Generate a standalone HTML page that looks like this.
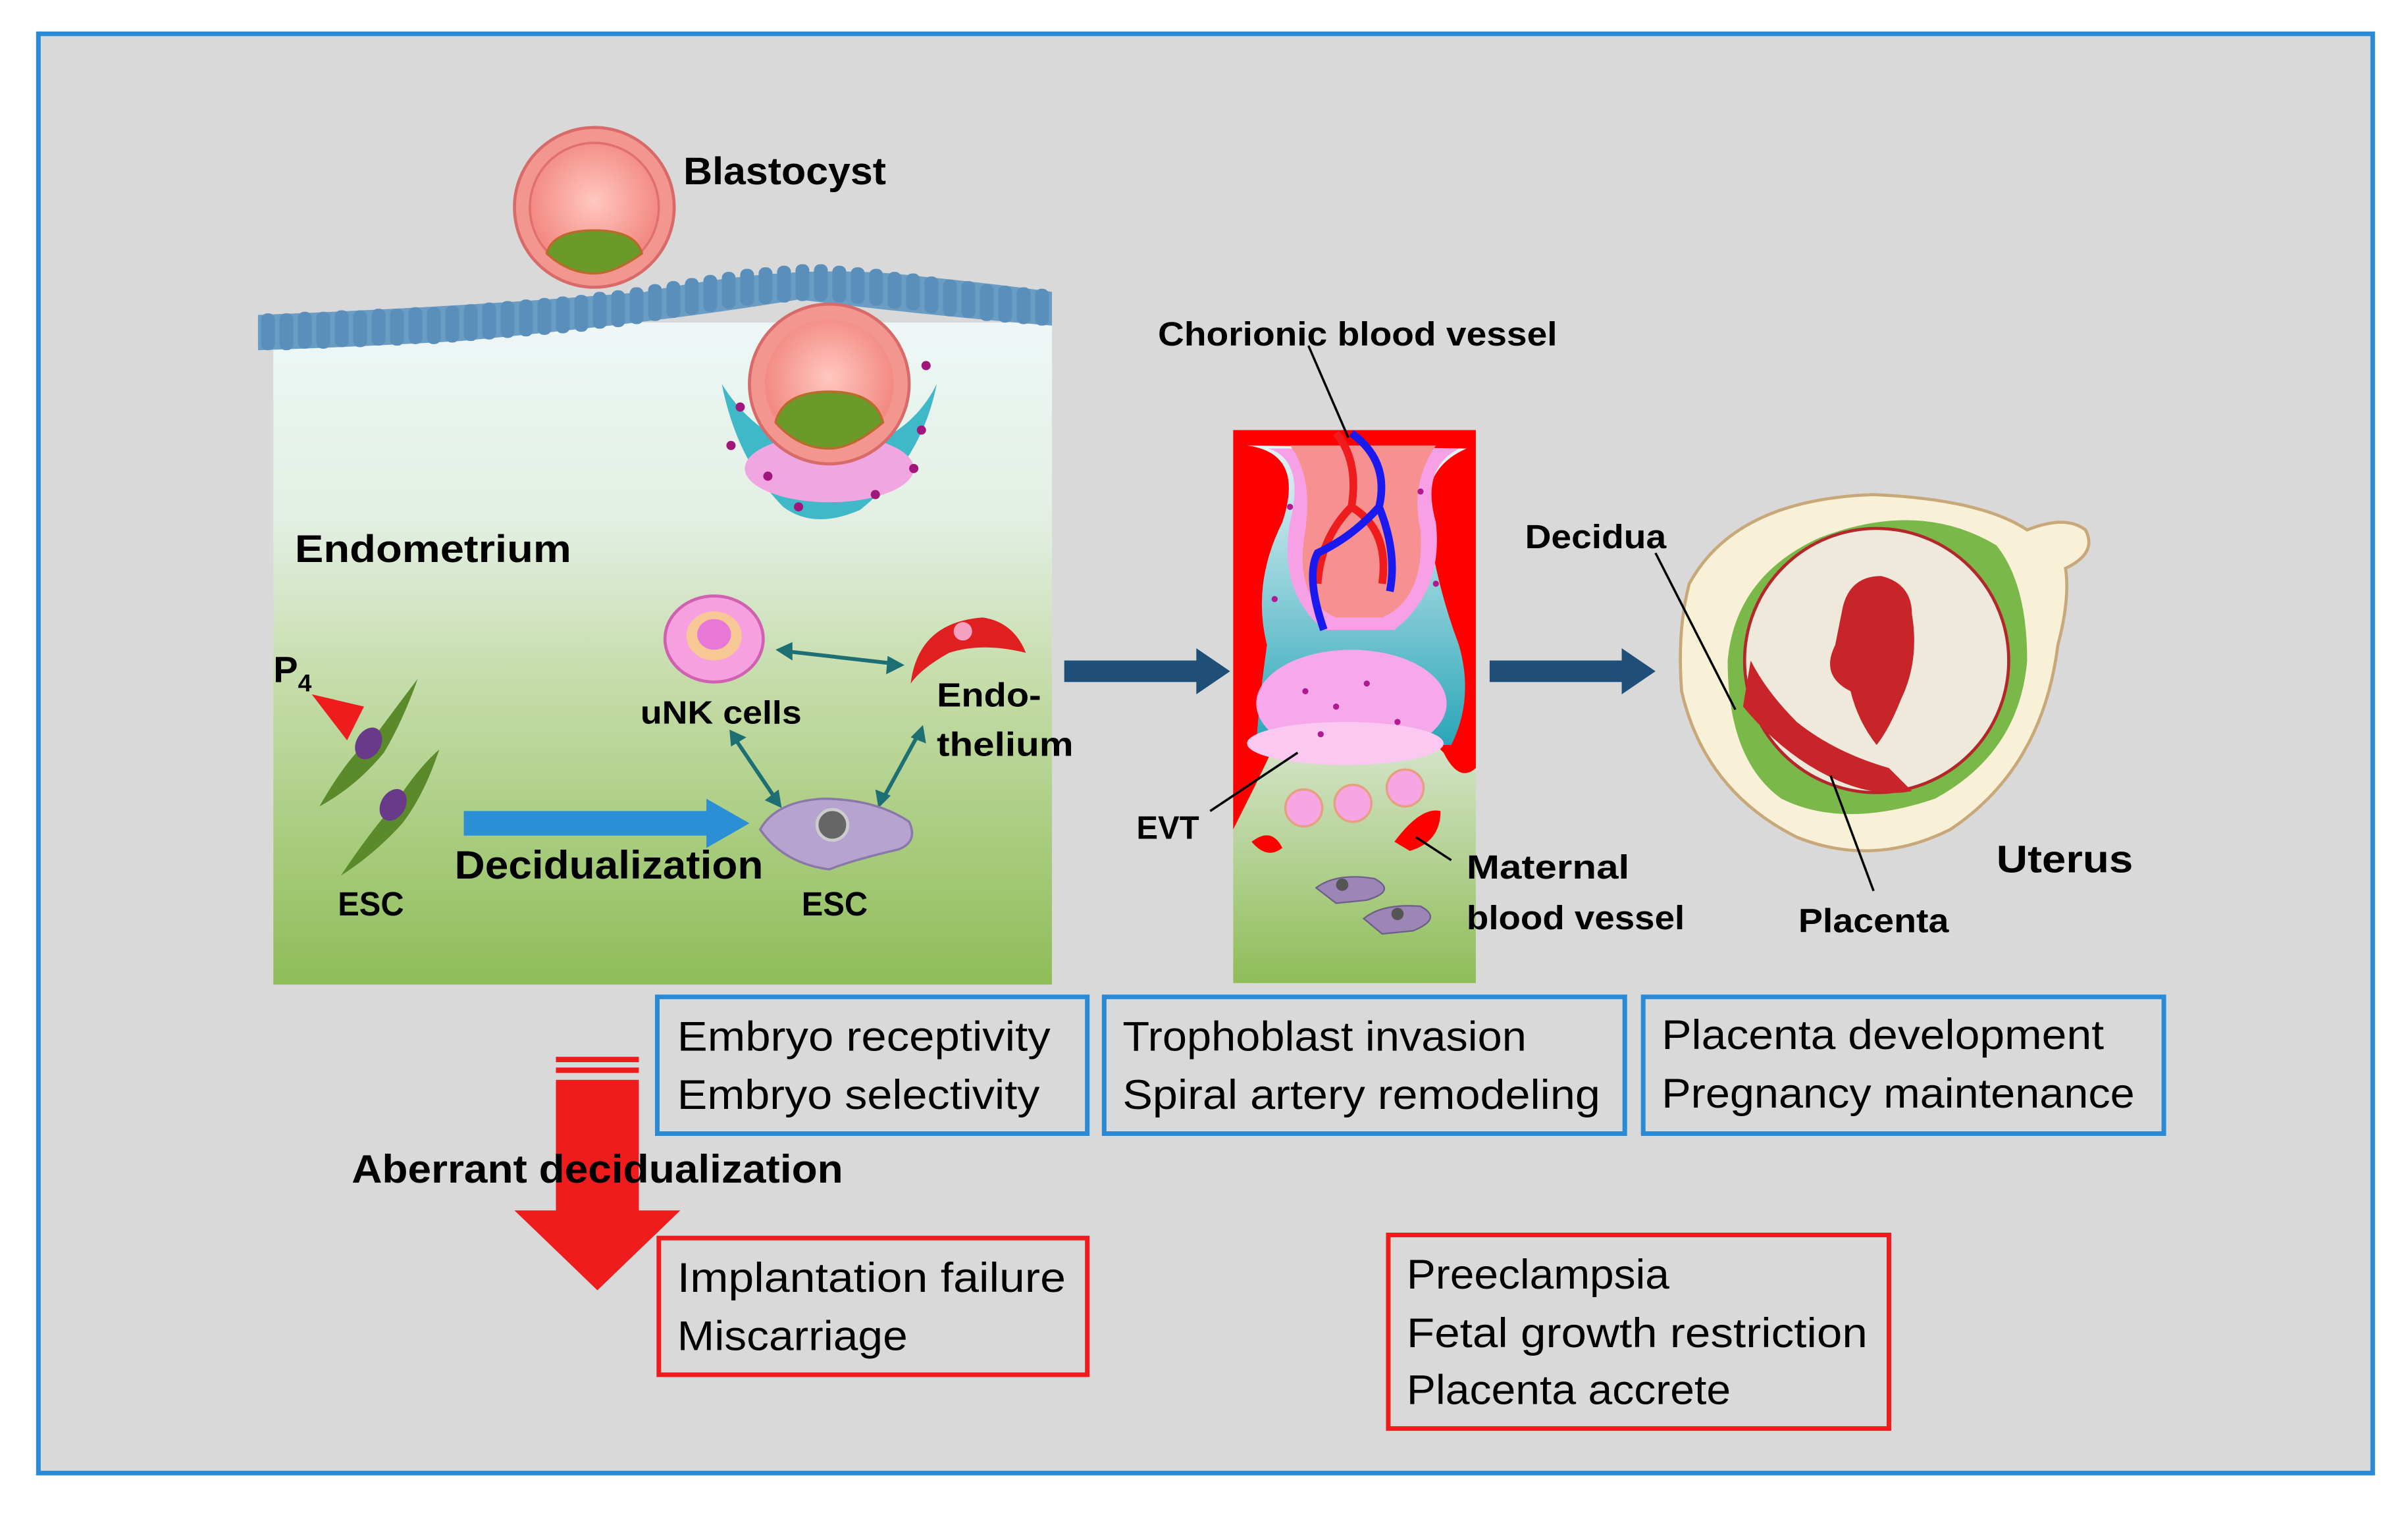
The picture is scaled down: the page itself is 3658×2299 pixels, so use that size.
<!DOCTYPE html>
<html><head><meta charset="utf-8"><style>
html,body{margin:0;padding:0;background:#fff}
svg{display:block}
text{font-family:"Liberation Sans",sans-serif}
</style></head><body>
<svg width="3658" height="2299" viewBox="0 0 1568 985" preserveAspectRatio="none" xmlns="http://www.w3.org/2000/svg">
<defs>
<linearGradient id="endo" x1="0" y1="0" x2="0" y2="1">
<stop offset="0" stop-color="#eef7f7"/><stop offset="0.3" stop-color="#e3efe3"/><stop offset="0.55" stop-color="#c4dca8"/><stop offset="1" stop-color="#8fbd58"/></linearGradient>
<linearGradient id="mid" x1="0" y1="0" x2="0" y2="1">
<stop offset="0" stop-color="#eef4f0"/><stop offset="0.5" stop-color="#dfeadb"/><stop offset="1" stop-color="#8fbd58"/></linearGradient>
<linearGradient id="teal" x1="0" y1="0" x2="0" y2="1">
<stop offset="0" stop-color="#e8f4f6"/><stop offset="1" stop-color="#2aa6b8"/></linearGradient>
<radialGradient id="bl" cx="0.5" cy="0.45" r="0.5"><stop offset="0" stop-color="#ffc8c0"/><stop offset="1" stop-color="#f38a84"/></radialGradient>
</defs>
<rect x="0" y="0" width="1568" height="985" fill="#fff"/>
<rect x="25" y="22" width="1520" height="937" fill="#d9d9d9" stroke="#2a8ad6" stroke-width="3"/>

<rect x="178" y="210" width="507" height="431" fill="url(#endo)"/>
<g fill="#6a9cc4">
<path d="M168 205 Q300 200 420 190 Q520 170 600 180 Q650 185 685 190 L685 212 Q600 205 520 195 Q430 210 300 222 Q230 226 168 228Z"/>
</g>
<g fill="#5a8fbb">
<rect x="170" y="204" width="9" height="24" rx="4"/><rect x="182" y="204" width="9" height="24" rx="4"/><rect x="194" y="203" width="9" height="24" rx="4"/><rect x="206" y="203" width="9" height="24" rx="4"/><rect x="218" y="202" width="9" height="24" rx="4"/><rect x="230" y="202" width="9" height="24" rx="4"/><rect x="242" y="201" width="9" height="24" rx="4"/><rect x="254" y="201" width="9" height="24" rx="4"/><rect x="266" y="200" width="9" height="24" rx="4"/><rect x="278" y="200" width="9" height="24" rx="4"/><rect x="290" y="199" width="9" height="24" rx="4"/><rect x="302" y="198" width="9" height="24" rx="4"/><rect x="314" y="197" width="9" height="24" rx="4"/><rect x="326" y="196" width="9" height="24" rx="4"/><rect x="338" y="195" width="9" height="24" rx="4"/><rect x="350" y="194" width="9" height="24" rx="4"/><rect x="362" y="193" width="9" height="24" rx="4"/><rect x="374" y="192" width="9" height="24" rx="4"/><rect x="386" y="190" width="9" height="24" rx="4"/><rect x="398" y="189" width="9" height="24" rx="4"/><rect x="410" y="187" width="9" height="24" rx="4"/><rect x="422" y="185" width="9" height="24" rx="4"/><rect x="434" y="183" width="9" height="24" rx="4"/><rect x="446" y="181" width="9" height="24" rx="4"/><rect x="458" y="179" width="9" height="24" rx="4"/><rect x="470" y="177" width="9" height="24" rx="4"/><rect x="482" y="175" width="9" height="24" rx="4"/><rect x="494" y="174" width="9" height="24" rx="4"/><rect x="506" y="173" width="9" height="24" rx="4"/><rect x="518" y="172" width="9" height="24" rx="4"/><rect x="530" y="172" width="9" height="24" rx="4"/><rect x="542" y="173" width="9" height="24" rx="4"/><rect x="554" y="174" width="9" height="24" rx="4"/><rect x="566" y="175" width="9" height="24" rx="4"/><rect x="578" y="177" width="9" height="24" rx="4"/><rect x="590" y="178" width="9" height="24" rx="4"/><rect x="602" y="180" width="9" height="24" rx="4"/><rect x="614" y="182" width="9" height="24" rx="4"/><rect x="626" y="183" width="9" height="24" rx="4"/><rect x="638" y="185" width="9" height="24" rx="4"/><rect x="650" y="186" width="9" height="24" rx="4"/><rect x="662" y="187" width="9" height="24" rx="4"/><rect x="674" y="188" width="9" height="24" rx="4"/>
</g>

<circle cx="387" cy="135" r="52" fill="#f49690" stroke="#d86a6a" stroke-width="2"/>
<circle cx="387" cy="135" r="42" fill="url(#bl)" stroke="#e07070" stroke-width="1.5"/>
<path d="M356 165 Q360 150 387 150 Q414 150 418 165 Q400 178 387 178 Q370 178 356 165Z" fill="#6a9a2a" stroke="#b86b2a" stroke-width="1.5"/>
<text x="445" y="120" font-size="25" font-weight="bold" textLength="132" lengthAdjust="spacingAndGlyphs">Blastocyst</text>

<path d="M470 250 Q480 300 510 330 Q530 345 560 332 Q600 300 610 250 Q590 290 540 295 Q495 290 470 250Z" fill="#3fb8c8"/>
<ellipse cx="540" cy="305" rx="55" ry="22" fill="#f0a6e0"/>
<circle cx="540" cy="250" r="52" fill="#f49690" stroke="#d86a6a" stroke-width="2"/>
<circle cx="540" cy="250" r="42" fill="url(#bl)"/>
<path d="M505 275 Q510 255 540 255 Q570 255 575 275 Q555 292 540 292 Q520 292 505 275Z" fill="#6a9a2a" stroke="#b86b2a" stroke-width="1.5"/>
<g fill="#a0167a"><circle cx="482" cy="265" r="3"/><circle cx="476" cy="290" r="3"/><circle cx="600" cy="280" r="3"/><circle cx="595" cy="305" r="3"/><circle cx="520" cy="330" r="3"/><circle cx="570" cy="322" r="3"/><circle cx="500" cy="310" r="3"/><circle cx="603" cy="238" r="3"/></g>

<text x="192" y="366" font-size="25" font-weight="bold" textLength="180" lengthAdjust="spacingAndGlyphs">Endometrium</text>

<ellipse cx="465" cy="416" rx="32" ry="28" fill="#f6a0e0" stroke="#d060b0" stroke-width="2"/>
<ellipse cx="465" cy="414" rx="18" ry="16" fill="#f7c896"/>
<ellipse cx="465" cy="413" rx="11" ry="10" fill="#e878d8"/>
<text x="417" y="471" font-size="21" font-weight="bold" textLength="105" lengthAdjust="spacingAndGlyphs">uNK cells</text>
<path d="M593 445 Q598 405 640 402 Q660 405 668 425 Q640 418 618 425 Q600 435 593 445Z" fill="#e02020"/>
<circle cx="627" cy="411" r="6" fill="#f4a0c0"/>
<text x="610" y="460" font-size="22" font-weight="bold" textLength="68" lengthAdjust="spacingAndGlyphs">Endo-</text>
<text x="610" y="492" font-size="22" font-weight="bold" textLength="89" lengthAdjust="spacingAndGlyphs">thelium</text>
<g stroke="#1e6f74" stroke-width="2.5" fill="none">
<line x1="512" y1="424" x2="582" y2="432"/>
<line x1="478" y1="480" x2="505" y2="520"/>
<line x1="575" y1="520" x2="598" y2="478"/>
</g>
<g fill="#1e6f74">
<path d="M505 423 L516 418 L516 430Z"/><path d="M589 433 L578 427 L577 439Z"/>
<path d="M475 475 L486 480 L476 486Z"/><path d="M509 526 L498 521 L507 514Z"/>
<path d="M572 526 L570 514 L580 518Z"/><path d="M601 472 L603 484 L593 480Z"/>
</g>
<path d="M495 540 Q505 522 535 520 Q570 520 592 535 Q598 548 585 553 Q555 560 540 566 Q510 562 495 540Z" fill="#b7a3d0" stroke="#8a78a8" stroke-width="1.5"/>
<circle cx="542" cy="537" r="10" fill="#666" stroke="#ccc" stroke-width="2"/>
<text x="522" y="596" font-size="22" font-weight="bold" textLength="43" lengthAdjust="spacingAndGlyphs">ESC</text>
<path d="M208 525 Q228 490 245 478 Q262 455 272 442 Q262 470 250 490 Q232 512 208 525Z" fill="#5a8a2a"/>
<ellipse cx="240" cy="484" rx="8" ry="11" fill="#6a3a8a" transform="rotate(30 240 484)"/>
<path d="M222 570 Q242 540 256 525 Q272 500 286 488 Q276 518 262 536 Q244 556 222 570Z" fill="#5a8a2a"/>
<ellipse cx="256" cy="524" rx="8" ry="11" fill="#6a3a8a" transform="rotate(30 256 524)"/>
<path d="M203 452 L237 460 L226 482Z" fill="#ee1c1c"/>
<text x="178" y="444" font-size="24" font-weight="bold">P<tspan font-size="16" dy="6">4</tspan></text>
<text x="220" y="596" font-size="22" font-weight="bold" textLength="43" lengthAdjust="spacingAndGlyphs">ESC</text>
<rect x="302" y="528" width="160" height="16" fill="#2b8fd6"/>
<path d="M460 520 L488 536 L460 552Z" fill="#2b8fd6"/>
<text x="296" y="572" font-size="26" font-weight="bold" textLength="201" lengthAdjust="spacingAndGlyphs">Decidualization</text>

<rect x="693" y="430" width="88" height="14" fill="#1f4e79"/><path d="M779 422 L801 437 L779 452Z" fill="#1f4e79"/>
<rect x="970" y="430" width="88" height="14" fill="#1f4e79"/><path d="M1056 422 L1078 437 L1056 452Z" fill="#1f4e79"/>

<rect x="803" y="280" width="158" height="360" fill="url(#mid)"/>
<path d="M803 280 L961 280 L961 500 Q950 510 940 490 L930 480 L880 482 L830 485 L818 510 L803 540Z" fill="#ff0000"/>
<path d="M812 290 Q850 295 835 340 Q815 380 825 420 Q820 455 818 485 L945 485 Q960 455 950 420 Q935 380 930 340 Q925 305 955 292Z" fill="url(#teal)"/>
<path d="M826 292 Q850 300 840 340 Q832 385 862 410 L908 410 Q940 385 935 340 Q925 305 950 292Z" fill="#f7a0e6"/>
<path d="M840 290 L935 290 Q918 315 925 345 Q928 390 900 402 L870 402 Q842 390 850 345 Q855 310 840 290Z" fill="#f79090"/>
<path d="M870 282 Q885 300 880 330 Q860 350 858 380 M880 330 Q905 345 900 380" stroke="#ee1c1c" stroke-width="5" fill="none"/>
<path d="M880 282 Q905 300 898 330 Q880 350 858 360 Q850 375 862 410 M898 330 Q910 360 905 385" stroke="#1a1aee" stroke-width="5" fill="none"/>
<ellipse cx="880" cy="458" rx="62" ry="35" fill="#f7a8ea"/>
<ellipse cx="876" cy="484" rx="64" ry="14" fill="#fbc8f2"/>
<g fill="#b01a90"><circle cx="850" cy="450" r="2"/><circle cx="870" cy="460" r="2"/><circle cx="890" cy="445" r="2"/><circle cx="910" cy="470" r="2"/><circle cx="860" cy="478" r="2"/><circle cx="840" cy="330" r="2"/><circle cx="925" cy="320" r="2"/><circle cx="830" cy="390" r="2"/><circle cx="935" cy="380" r="2"/></g>
<g fill="#f6a6e2" stroke="#e6a080" stroke-width="1.5"><circle cx="849" cy="526" r="12"/><circle cx="881" cy="523" r="12"/><circle cx="915" cy="513" r="12"/></g>
<path d="M815 548 Q828 538 835 552 Q825 560 815 548Z M908 548 Q925 525 938 528 Q938 548 918 554Z" fill="#ff0000"/>
<g fill="#9b86b5" stroke="#6f5f88"><path d="M857 578 Q870 568 895 572 Q910 580 890 586 L870 588Z"/><path d="M888 598 Q900 588 925 590 Q940 598 920 606 L900 608Z"/></g>
<circle cx="874" cy="576" r="4" fill="#555"/><circle cx="910" cy="595" r="4" fill="#555"/>
<g stroke="#000" stroke-width="1.5"><line x1="852" y1="225" x2="878" y2="285"/><line x1="788" y1="528" x2="845" y2="490"/><line x1="922" y1="545" x2="945" y2="560"/></g>
<text x="754" y="225" font-size="22" font-weight="bold" textLength="260" lengthAdjust="spacingAndGlyphs">Chorionic blood vessel</text>
<text x="740" y="546" font-size="21" font-weight="bold">EVT</text>
<text x="955" y="572" font-size="22" font-weight="bold" textLength="106" lengthAdjust="spacingAndGlyphs">Maternal</text>
<text x="955" y="605" font-size="22" font-weight="bold" textLength="142" lengthAdjust="spacingAndGlyphs">blood vessel</text>

<path d="M1100 380 Q1130 325 1220 322 Q1290 325 1320 345 Q1345 335 1358 345 Q1366 360 1345 370 Q1348 390 1340 420 Q1330 500 1270 540 Q1220 565 1170 545 Q1110 515 1095 450 Q1092 410 1100 380Z" fill="#f9f0d8" stroke="#c8a878" stroke-width="2"/>
<path d="M1125 430 Q1130 375 1185 350 Q1250 325 1300 355 Q1320 380 1320 430 Q1315 490 1260 520 Q1200 540 1160 520 Q1125 495 1125 430Z" fill="#7ab84a"/>
<circle cx="1222" cy="430" r="86" fill="#efe9dc" stroke="#b3262a" stroke-width="2"/>
<path d="M1135 460 Q1160 490 1190 505 Q1220 520 1245 515 L1230 500 Q1195 490 1170 470 Q1150 450 1140 430Z" fill="#c8252a"/>
<path d="M1200 395 Q1205 375 1225 375 Q1245 380 1245 400 Q1250 430 1238 455 Q1230 475 1222 485 Q1210 470 1205 450 Q1185 440 1195 420Z" fill="#c8252a"/>
<g stroke="#000" stroke-width="1.5"><line x1="1078" y1="360" x2="1130" y2="462"/><line x1="1220" y1="580" x2="1192" y2="505"/></g>
<text x="993" y="357" font-size="22" font-weight="bold" textLength="92" lengthAdjust="spacingAndGlyphs">Decidua</text>
<text x="1300" y="568" font-size="25" font-weight="bold" textLength="89" lengthAdjust="spacingAndGlyphs">Uterus</text>
<text x="1171" y="607" font-size="22" font-weight="bold" textLength="98" lengthAdjust="spacingAndGlyphs">Placenta</text>

<g fill="none" stroke-width="3">
<rect x="428" y="649" width="280" height="89" stroke="#2a8ad6"/>
<rect x="719" y="649" width="339" height="89" stroke="#2a8ad6"/>
<rect x="1070" y="649" width="339" height="89" stroke="#2a8ad6"/>
<rect x="429" y="806" width="279" height="89" stroke="#ee1c1c"/>
<rect x="904" y="804" width="326" height="126" stroke="#ee1c1c"/>
</g>
<g font-size="27" lengthAdjust="spacingAndGlyphs">
<text x="441" y="684" textLength="243" lengthAdjust="spacingAndGlyphs">Embryo receptivity</text><text x="441" y="722" textLength="236" lengthAdjust="spacingAndGlyphs">Embryo selectivity</text>
<text x="731" y="684" textLength="263" lengthAdjust="spacingAndGlyphs">Trophoblast invasion</text><text x="731" y="722" textLength="311" lengthAdjust="spacingAndGlyphs">Spiral artery remodeling</text>
<text x="1082" y="683" textLength="288" lengthAdjust="spacingAndGlyphs">Placenta development</text><text x="1082" y="721" textLength="308" lengthAdjust="spacingAndGlyphs">Pregnancy maintenance</text>
<text x="441" y="841" textLength="253" lengthAdjust="spacingAndGlyphs">Implantation failure</text><text x="441" y="879" textLength="150" lengthAdjust="spacingAndGlyphs">Miscarriage</text>
<text x="916" y="839" textLength="171" lengthAdjust="spacingAndGlyphs">Preeclampsia</text><text x="916" y="877" textLength="300" lengthAdjust="spacingAndGlyphs">Fetal growth restriction</text><text x="916" y="914" textLength="211" lengthAdjust="spacingAndGlyphs">Placenta accrete</text>
</g>

<rect x="362" y="688" width="54" height="3.5" fill="#ee1c1c"/>
<rect x="362" y="695" width="54" height="3.5" fill="#ee1c1c"/>
<rect x="362" y="703" width="54" height="88" fill="#ee1c1c"/>
<path d="M335 788 L443 788 L389 840Z" fill="#ee1c1c"/>
<text x="229" y="770" font-size="26" font-weight="bold" textLength="320" lengthAdjust="spacingAndGlyphs">Aberrant decidualization</text>
</svg>
</body></html>
